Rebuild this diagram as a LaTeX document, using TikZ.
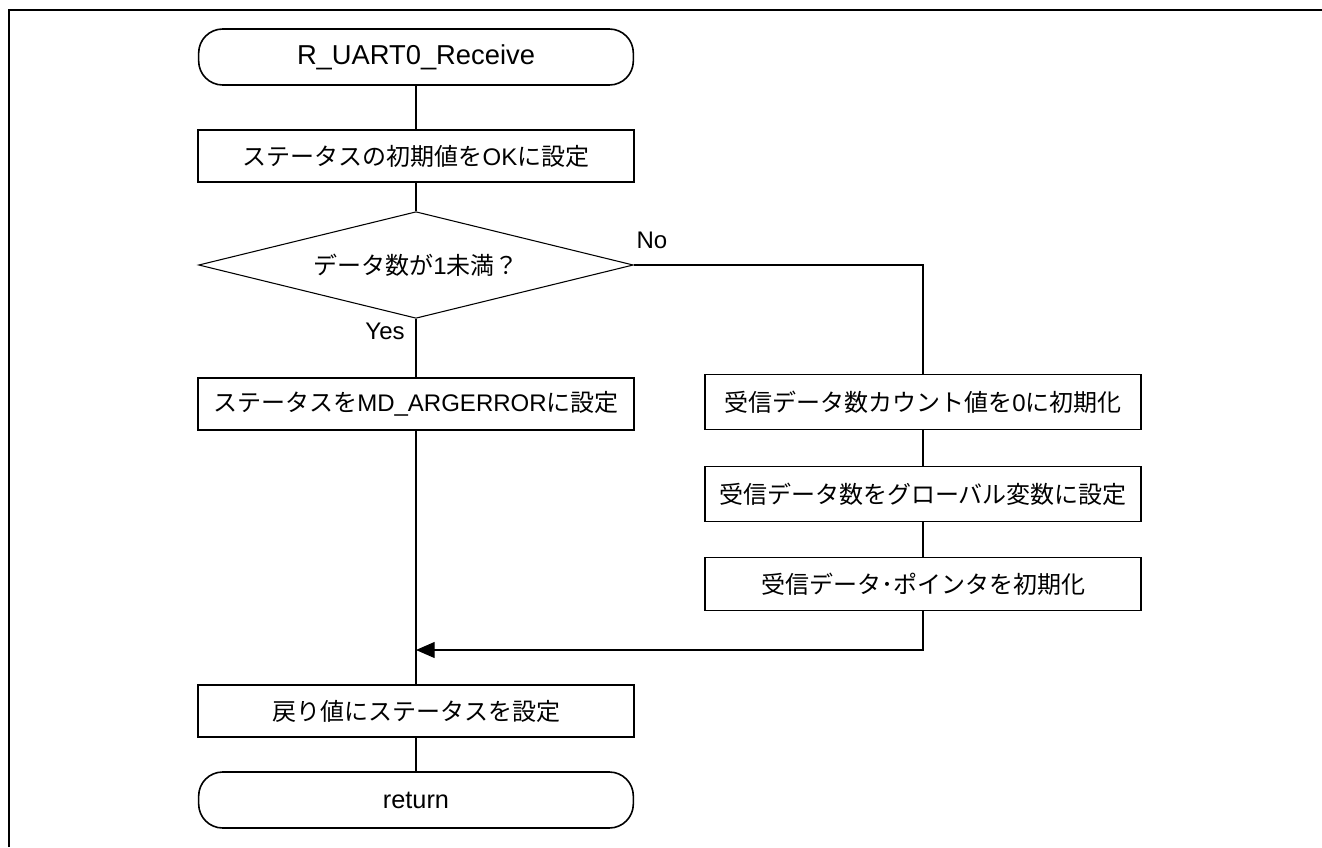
\documentclass[tikz,border=0pt]{standalone}
\usepackage{fontspec}
\setmainfont{Liberation Sans}
\newfontfamily\jp{Noto Sans CJK JP}
\usetikzlibrary{shapes.geometric}
\usetikzlibrary{arrows.meta}

\begin{document}
\begin{tikzpicture}[x=0.75pt, y=-0.75pt, font=\fontsize{18pt}{21pt}\selectfont]
  \tikzstyle{term}=[rectangle, rounded corners=18pt, draw, line width=1.2pt, minimum width=326pt, minimum height=42pt]
  \tikzstyle{proc}=[rectangle, draw, line width=1.2pt, minimum width=327pt, minimum height=39pt]
  \tikzstyle{cond}=[diamond, draw, line width=0.8pt, aspect=4.1, inner sep=0pt, minimum width=326pt, minimum height=80pt]
  \tikzstyle{flow}=[line width=1.3pt]
  \tikzstyle{side}=[line width=0.8pt]
  \useasboundingbox (0,0) rectangle (1322,847);
  % frame
  \draw[line width=2.2pt] (9,847) -- (9,10) -- (1322,10);
  \node [term, font=\fontsize{20.5pt}{24pt}\selectfont] at (416,57) (start) {R\_UART0\_Receive};
  \node [proc] at (416,156) (init) {{\jp ステータスの初期値を}OK{\jp に設定}};
  \node [cond] at (416,265) (chk) {{\jp データ数が}1{\jp 未満？}};
  \node [proc] at (416,404) (err) {{\jp ステータスを}MD\_ARGERROR{\jp に設定}};
  \node [proc, minimum height=41pt] at (923,402) (cnt) {{\jp 受信データ数カウント値を}0{\jp に初期化}};
  \node [proc, minimum height=41pt] at (923,494) (num) {{\jp 受信データ数をグローバル変数に設定}};
  \node [proc, minimum height=40pt] at (923,584) (ptr) {{\jp 受信データ･ポインタを初期化}};
  \node [proc] at (416,711) (ret) {{\jp 戻り値にステータスを設定}};
  \node [term, font=\fontsize{19pt}{22pt}\selectfont] at (416,800) (fin) {return};
  \node at (652,240) (no) {No};
  \node at (385,331) (yes) {Yes};
  \coordinate (join) at (416,650);
  \draw[flow] (start) -- (init);
  \draw[flow] (init) -- (chk);
  \draw[flow] (chk) -- (err);
  \draw[side] (chk.east) -| (cnt.north);
  \draw[side] (cnt) -- (num);
  \draw[side] (num) -- (ptr);
  \draw[flow] (err) -- (ret);
  \draw[side, -{Triangle[length=14pt, width=12pt]}] (ptr.south) |- (join);
  \draw[flow] (ret) -- (fin);
\end{tikzpicture}
\end{document}
